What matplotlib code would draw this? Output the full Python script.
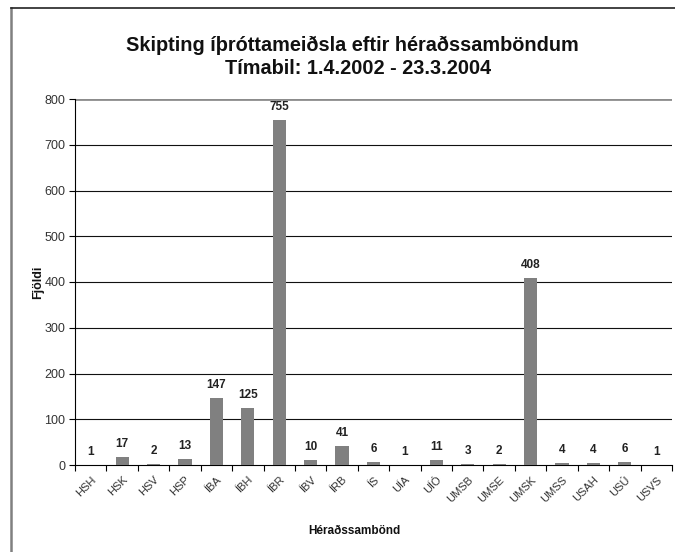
import matplotlib
matplotlib.use('Agg')
import matplotlib.pyplot as plt
from matplotlib.lines import Line2D

plt.rcParams['font.family'] = ['Liberation Sans', 'DejaVu Sans']

categories = ['HSH', 'HSK', 'HSV', 'HSP', 'ÍBA', 'ÍBH', 'ÍBR', 'ÍBV', 'ÍRB', 'ÍS',
              'UÍA', 'UÍÓ', 'UMSB', 'UMSE', 'UMSK', 'UMSS', 'USAH', 'USÚ', 'USVS']
counts = [1, 17, 2, 13, 147, 125, 755, 10, 41, 6, 1, 11, 3, 2, 408, 4, 4, 6, 1]
yticks = [0, 100, 200, 300, 400, 500, 600, 700, 800]

W, H = 675, 552
fig = plt.figure(figsize=(W / 100, H / 100), dpi=100)
ax = fig.add_axes([75 / W, 1 - 465 / H, (672 - 75) / W, (465 - 99) / H])

x = list(range(len(categories)))
ax.bar(x, counts, width=0.42, color='#808080', zorder=3)
for xi, v in zip(x, counts):
    ax.annotate(str(v), (xi, v), xytext=(0, 5), textcoords='offset points',
                ha='center', va='bottom', fontsize=8.5, fontweight='bold',
                color='#222222')

ax.set_xlim(-0.5, len(categories) - 0.5)
ax.set_ylim(0, 800)
ax.set_yticks(yticks)
ax.set_yticklabels([str(t) for t in yticks], fontsize=9, color='#333333')
ax.set_xticks(x)
ax.set_xticklabels(categories, rotation=45, ha='right', rotation_mode='anchor',
                   fontsize=8, color='#333333')
ax.set_xticks([i - 0.5 for i in range(len(categories) + 1)], minor=True)
ax.tick_params(axis='x', which='major', length=0, pad=7)
ax.tick_params(axis='x', which='minor', length=4, width=0.8, direction='out')
ax.tick_params(axis='y', length=4, width=0.8, direction='out', pad=3)

for t in yticks[1:-1]:
    ax.axhline(t, color='#111111', lw=0.8, zorder=1)
ax.axhline(800, color='#8c8c8c', lw=2, zorder=1)

for s in ['top', 'right']:
    ax.spines[s].set_visible(False)
ax.spines['left'].set_linewidth(0.8)
ax.spines['bottom'].set_linewidth(0.8)

fig.text(38 / W, 1 - 282 / H, 'Fjöldi', rotation=90, ha='center', va='center',
         fontsize=9, fontweight='bold', color='#111111')
fig.text(354 / W, 1 - 531 / H, 'Héraðssambönd', ha='center', va='center',
         fontsize=8.5, fontweight='bold', color='#111111')

fig.text(352 / W, 1 - 45 / H, 'Skipting íþróttameiðsla eftir héraðssamböndum',
         ha='center', va='center', fontsize=14.3, fontweight='bold', color='#111111')
fig.text(358 / W, 1 - 68 / H, 'Tímabil: 1.4.2002 - 23.3.2004',
         ha='center', va='center', fontsize=14.3, fontweight='bold', color='#111111')

# chart frame (cut at right and bottom)
fig.add_artist(Line2D([11 / W, 11 / W], [0, 1 - 8 / H], color='#808080', lw=1.8,
                      transform=fig.transFigure))
fig.add_artist(Line2D([11 / W, 1], [1 - 8 / H, 1 - 8 / H], color='#222222', lw=1.2,
                      transform=fig.transFigure))

fig.savefig('out.png', dpi=100, facecolor='white')
